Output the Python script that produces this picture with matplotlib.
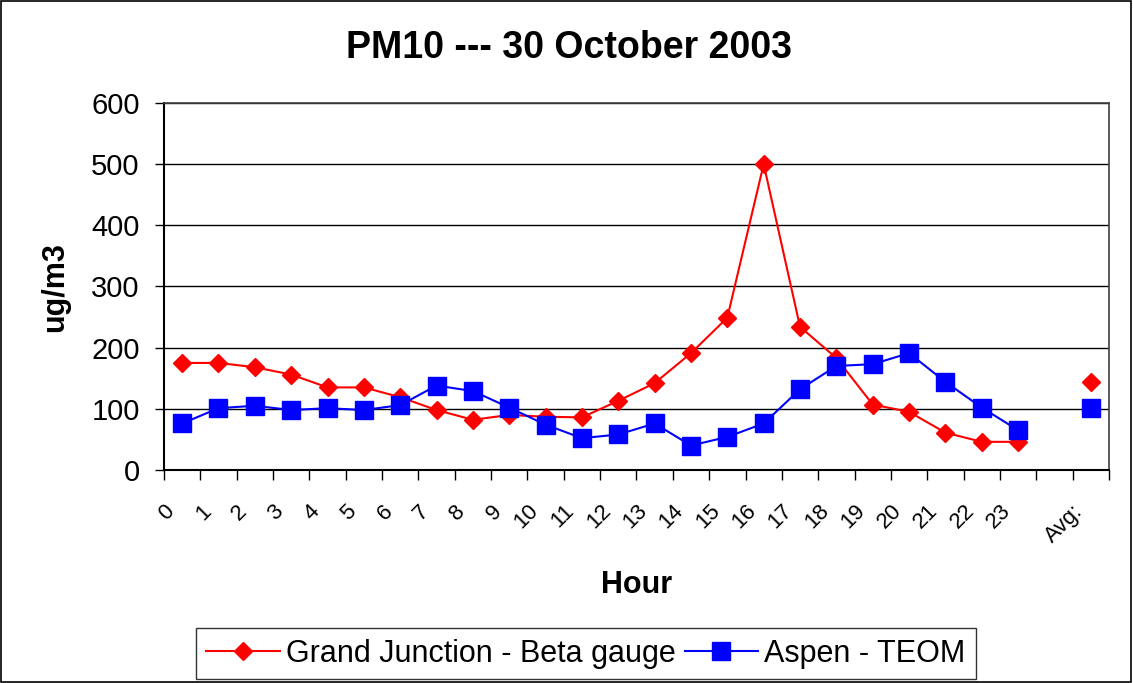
import numpy as np
import matplotlib
matplotlib.use("Agg")
import matplotlib.pyplot as plt
from matplotlib.patches import Rectangle

plt.rcParams['font.family'] = ['Liberation Sans', 'DejaVu Sans']

# categories: hours 0-23, an empty slot, then the average
HOURS = [str(h) for h in range(24)]
LABELS = HOURS + ['', 'Avg:']

# hourly values (ug/m3) and the daily averages
GJ_BETA = [175, 175, 168, 156, 135, 135, 119, 98, 82, 90, 87, 86,
           113, 142, 191, 249, 500, 234, 183, 107, 95, 61, 46, 46]
GJ_AVG = 144
ASPEN_TEOM = [76, 101, 105, 98, 101, 98, 106, 138, 129, 102, 74, 52,
              58, 76, 40, 54, 76, 132, 170, 173, 191, 144, 102, 65]
ASPEN_AVG = 102


def main():
    fig = plt.figure(figsize=(11.33, 6.83), dpi=100)
    ax = fig.add_axes([0.1447, 0.3119, 0.9788 - 0.1447, 0.8492 - 0.3119])

    # put the series in the category slots, gap at the empty slot
    x = np.arange(len(LABELS)) + 0.5
    red = GJ_BETA + [np.nan, GJ_AVG]
    blue = ASPEN_TEOM + [np.nan, ASPEN_AVG]

    ax.plot(x, red, color='#ff0000', lw=1.5, marker='D', ms=9,
            mec='#ff0000', mfc='#ff0000', label='Grand Junction - Beta gauge',
            zorder=3)
    ax.plot(x, blue, color='#0000ff', lw=1.5, marker='s', ms=12.5,
            mec='#0000ff', mfc='#0000ff', label='Aspen - TEOM', zorder=3)

    ax.set_xlim(0, len(LABELS))
    ax.set_ylim(0, 600)
    ax.set_yticks(range(0, 601, 100))
    ax.yaxis.grid(True, color='black', lw=1)
    ax.set_axisbelow(True)

    # ticks at category edges; Excel-style rotated labels hang off them
    ax.set_xticks(range(len(LABELS) + 1))
    ax.set_xticklabels(LABELS + [''], rotation=45, ha='right',
                       rotation_mode='anchor', fontsize=16)
    ax.tick_params(axis='x', length=7, width=1, direction='out', pad=15)
    ax.tick_params(axis='y', length=6.5, width=1, direction='out',
                   labelsize=21, pad=11)

    for side in ['top', 'right']:
        ax.spines[side].set_color('#404040')
        ax.spines[side].set_linewidth(1.2)
    ax.spines['left'].set_linewidth(1.5)
    ax.spines['bottom'].set_linewidth(1.5)

    fig.text(0.502, 0.93, 'PM10 --- 30 October 2003', ha='center',
             va='center', fontsize=27, fontweight='bold')
    fig.text(0.0485, 0.58, 'ug/m3', ha='center', va='center', rotation=90,
             fontsize=22, fontweight='bold')
    fig.text(0.562, 0.1435, 'Hour', ha='center', va='center',
             fontsize=22, fontweight='bold')

    leg = fig.legend(loc='center', bbox_to_anchor=(0.517, 0.043), ncol=2,
                     fontsize=22, frameon=True, fancybox=False,
                     edgecolor='black', handlelength=2.4, handletextpad=0.2,
                     columnspacing=0.3, borderpad=0.35, borderaxespad=0)
    leg.get_frame().set_linewidth(1)

    # outer chart border
    fig.patches.append(Rectangle((0.001, 0.001), 0.997, 0.997,
                                 transform=fig.transFigure, fill=False,
                                 edgecolor='black', lw=1.2))

    fig.savefig('out.png', dpi=100)


main()
